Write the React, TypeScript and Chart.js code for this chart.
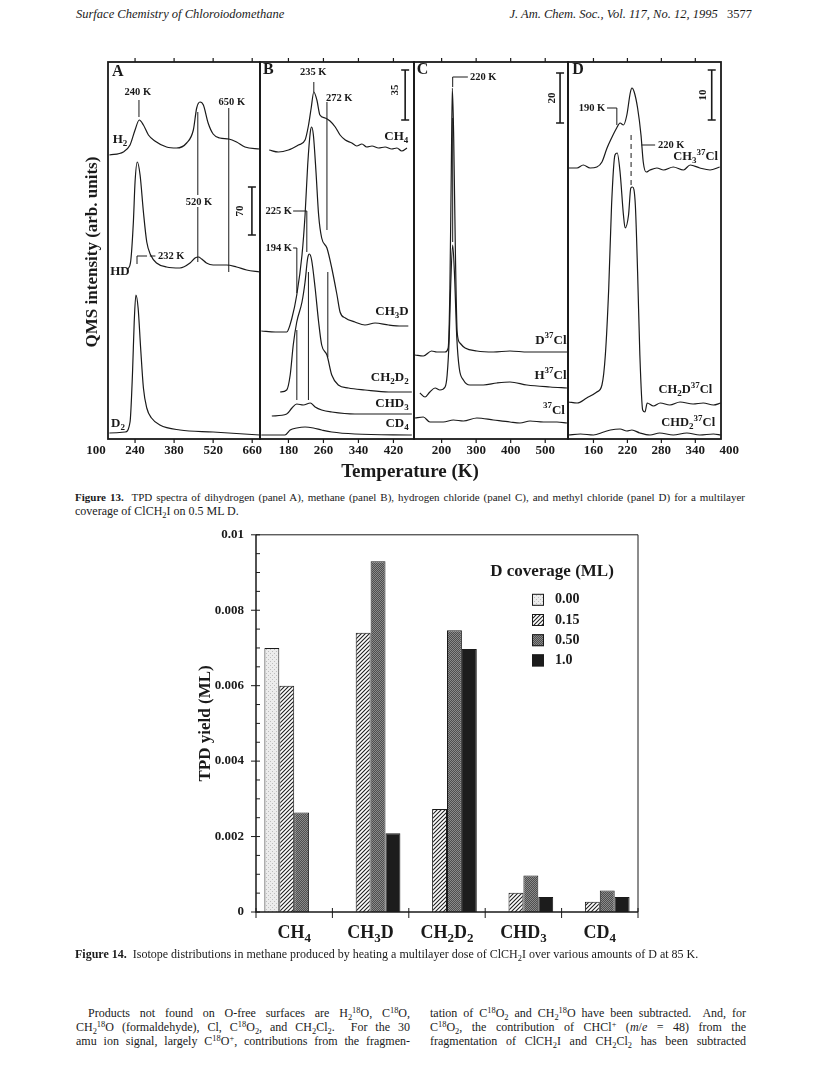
import React, { useEffect, useRef } from 'react';
import { Chart, registerables } from 'chart.js';
Chart.register(...registerables);

const SERIF = "'Liberation Serif', 'Times New Roman', Times, serif";
const INK = '#1a1a1a';

// ================= Figure 14 data =================
const barCategories = ['CH_4', 'CH_3D', 'CH_2D_2', 'CHD_3', 'CD_4'];
const coverageLabels = ['0.00', '0.15', '0.50', '1.0'];
const yield000 = [0.0070, null, null, null, null];
const yield015 = [0.0060, 0.0074, 0.00273, 0.00051, 0.00027];
const yield050 = [0.00264, 0.0093, 0.00747, 0.00097, 0.00057];
const yield100 = [null, 0.00209, 0.00697, 0.0004, 0.0004];
const yTickValues = [0, 0.002, 0.004, 0.006, 0.008, 0.01];

// ================= Figure 13 data (temperature K, signal arb.) =================
// Panel A: dihydrogen
const tempA_H2 = [148, 198, 222, 240, 255, 270, 288, 311, 353, 389, 425, 449, 461, 473, 485, 502, 520, 544, 576, 604, 634, 687];
const sigA_H2 = [290, 293, 300, 315, 325, 320, 310, 304, 298, 297, 302, 315, 337, 343, 340, 322, 311, 307, 306, 303, 298, 296];
const tempA_HD = [214, 224, 234, 240, 248, 258, 270, 282, 296, 317, 353, 401, 437, 455, 467, 479, 496, 520, 568, 604, 640, 687];
const sigA_HD = [176, 183, 223, 263, 283, 270, 233, 203, 190, 182, 178, 177, 182, 187, 188, 186, 182, 180, 180, 178, 175, 173];
const tempA_D2 = [148, 204, 222, 231, 237, 243, 251, 260, 270, 282, 299, 329, 401, 520, 687];
const sigA_D2 = [12, 13, 23, 73, 123, 150, 137, 97, 57, 37, 27, 20, 15, 13, 10];
const ticksA = [100, 240, 380, 520, 660];

// Panel B: methane
const tempB_CH4 = [136, 157, 180, 203, 218, 226, 232, 238, 245, 252, 264, 275, 287, 298, 310, 325, 336, 348, 359, 371, 386, 401, 416, 428, 439, 451];
const sigB_CH4 = [295, 293, 295, 300, 305, 320, 337, 353, 345, 330, 327, 324, 318, 310, 305, 302, 299, 301, 298, 299, 297, 298, 296, 297, 294, 297];
const tempB_CH3D = [118, 150, 176, 188, 199, 211, 218, 224, 230, 233, 237, 243, 249, 256, 268, 279, 291, 298, 310, 332, 355, 378, 409, 439, 454];
const sigB_CH3D = [114, 113, 113, 127, 150, 190, 230, 280, 313, 318, 310, 273, 230, 207, 197, 177, 150, 133, 127, 123, 120, 122, 120, 119, 119];
const tempB_CH2D2 = [161, 176, 184, 191, 199, 211, 218, 224, 228, 233, 241, 249, 256, 268, 279, 294, 317, 355, 409, 462];
const sigB_CH2D2 = [53, 55, 70, 100, 123, 143, 163, 187, 191, 185, 157, 123, 100, 90, 70, 60, 57, 55, 53, 53];
const tempB_CHD3 = [142, 176, 188, 199, 214, 230, 241, 256, 279, 332, 462];
const sigB_CHD3 = [29, 31, 37, 41, 40, 42, 38, 35, 33, 31, 31];
const tempB_CD4 = [118, 172, 184, 199, 218, 237, 256, 279, 332, 462];
const sigB_CD4 = [10, 10, 15, 17, 18, 17, 15, 13, 11, 10];
const ticksB = [180, 260, 340, 420];

// Panel C: hydrogen chloride
const tempC_D37Cl = [123, 147, 171, 186, 210, 219, 224, 228, 231, 235, 240, 245, 253, 268, 302, 350, 398, 450, 495, 563];
const sigC_D37Cl = [90, 89, 94, 93, 93, 97, 157, 273, 357, 307, 190, 113, 102, 97, 94, 93, 94, 93, 93, 93];
const tempC_H37Cl = [137, 152, 166, 181, 195, 210, 216, 222, 226, 232, 237, 244, 251, 263, 282, 321, 360, 398, 447, 514, 563];
const sigC_H37Cl = [52, 48, 53, 57, 55, 58, 70, 107, 157, 200, 173, 107, 77, 65, 60, 60, 62, 63, 60, 58, 57];
const tempC_37Cl = [123, 147, 166, 205, 234, 263, 302, 350, 398, 427, 456, 495, 534, 563];
const sigC_37Cl = [27, 28, 23, 23, 25, 24, 27, 25, 23, 22, 24, 23, 23, 22];
const ticksC = [200, 300, 400, 500];

// Panel D: methyl chloride
const tempD_CH3 = [116, 131, 142, 154, 166, 175, 184, 192, 201, 207, 213, 219, 225, 228, 232, 238, 244, 248, 253, 260, 272, 284, 301, 319, 331, 348, 366, 383];
const sigD_CH3 = [277, 277, 280, 277, 278, 283, 297, 307, 317, 322, 320, 330, 352, 357, 353, 337, 310, 283, 273, 275, 277, 275, 278, 275, 280, 277, 275, 278];
const tempD_CH2D = [116, 131, 148, 166, 175, 181, 187, 192, 198, 202, 207, 213, 216, 222, 226, 229, 234, 238, 242, 247, 251, 255, 266, 278, 295, 313, 336, 354, 372, 385];
const sigD_CH2D = [43, 42, 47, 53, 60, 90, 157, 240, 290, 292, 273, 230, 217, 230, 257, 258, 240, 173, 90, 35, 33, 42, 39, 42, 40, 43, 41, 42, 40, 42];
const tempD_CHD2 = [116, 137, 160, 178, 190, 207, 219, 228, 242, 260, 277, 301, 325, 348, 372, 385];
const sigD_CHD2 = [10, 11, 10, 13, 15, 16, 14, 15, 12, 10, 12, 10, 12, 10, 11, 10];
const ticksD = [160, 220, 280, 340, 400];

// ================= helpers =================
type Part = { t: string; k: 'n' | 'sub' | 'sup' };
function parseRich(s: string): Part[] {
  const out: Part[] = [];
  const re = /_([0-9]+)|\^([0-9+]+)|([^_^]+)/g;
  let m: RegExpExecArray | null;
  while ((m = re.exec(s))) {
    if (m[1]) out.push({ t: m[1], k: 'sub' });
    else if (m[2]) out.push({ t: m[2], k: 'sup' });
    else out.push({ t: m[3], k: 'n' });
  }
  return out;
}

function drawRich(ctx: CanvasRenderingContext2D, s: string, x: number, y: number, size: number, align: 'left' | 'center' | 'right') {
  const parts = parseRich(s);
  const fontFor = (k: string) => `bold ${k === 'n' ? size : Math.round(size * 0.7)}px ${SERIF}`;
  let w = 0;
  for (const p of parts) { ctx.font = fontFor(p.k); w += ctx.measureText(p.t).width; }
  let cx = align === 'left' ? x : align === 'center' ? x - w / 2 : x - w;
  ctx.textAlign = 'left';
  ctx.textBaseline = 'middle';
  for (const p of parts) {
    ctx.font = fontFor(p.k);
    const dy = p.k === 'sub' ? size * 0.32 : p.k === 'sup' ? -size * 0.38 : 0;
    ctx.fillText(p.t, cx, y + dy);
    cx += ctx.measureText(p.t).width;
  }
}

function Rich({ s }: { s: string }) {
  const parts = parseRich(s);
  return (
    <>
      {parts.map((p, i) =>
        p.k === 'n' ? <span key={i}>{p.t}</span> :
          <span key={i} style={{ fontSize: '0.7em', position: 'relative', top: p.k === 'sub' ? '0.3em' : '-0.45em' }}>{p.t}</span>
      )}
    </>
  );
}

// ================= Figure 13 panels =================
type TextAnn = { s: string; T: number; v: number; align: 'left' | 'center' | 'right'; size: number };
type LineAnn = { pts: number[][]; dash?: boolean };
type Panel = {
  key: string; left: number; right: number; tMin: number; tMax: number; ticks: number[];
  traces: { label: string; T: number[]; V: number[] }[];
  texts: TextAnn[]; lines: LineAnn[];
  bar: { T: number; v1: number; v2: number; label: string; labelT: number; labelV: number };
};

const FIG_TOP = 62;
const FIG_BOTTOM = 439;
const SIG_MIN = 6;
const SIG_MAX = SIG_MIN + (FIG_BOTTOM - FIG_TOP);

const panels: Panel[] = [
  {
    key: 'A', left: 108, right: 260, tMin: 143, tMax: 688, ticks: ticksA,
    traces: [
      { label: 'H2', T: tempA_H2, V: sigA_H2 },
      { label: 'HD', T: tempA_HD, V: sigA_HD },
      { label: 'D2', T: tempA_D2, V: sigA_D2 },
    ],
    texts: [
      { s: 'A', T: 157, v: 373, align: 'left', size: 16 },
      { s: '240 K', T: 250, v: 353, align: 'center', size: 10.5 },
      { s: '650 K', T: 587, v: 343, align: 'center', size: 10.5 },
      { s: '520 K', T: 469, v: 243, align: 'center', size: 10.5 },
      { s: 'H_2', T: 186, v: 305, align: 'center', size: 13 },
      { s: 'HD', T: 151, v: 173, align: 'left', size: 13 },
      { s: 'D_2', T: 179, v: 21, align: 'center', size: 13 },
      { s: '232 K', T: 322, v: 189, align: 'left', size: 10.5 },
    ],
    lines: [
      { pts: [[254, 345], [254, 328]] },
      { pts: [[576, 337], [576, 173]] },
      { pts: [[465, 333], [465, 250]] },
      { pts: [[465, 238], [465, 183]] },
      { pts: [[247, 181], [247, 189], [283, 189]] },
      { pts: [[293, 189], [313, 189]] },
    ],
    bar: { T: 659, v1: 258, v2: 210, label: '70', labelT: 616, labelV: 234 },
  },
  {
    key: 'B', left: 260, right: 414, tMin: 115, tMax: 467, ticks: ticksB,
    traces: [
      { label: 'CH4', T: tempB_CH4, V: sigB_CH4 },
      { label: 'CH3D', T: tempB_CH3D, V: sigB_CH3D },
      { label: 'CH2D2', T: tempB_CH2D2, V: sigB_CH2D2 },
      { label: 'CHD3', T: tempB_CHD3, V: sigB_CHD3 },
      { label: 'CD4', T: tempB_CD4, V: sigB_CD4 },
    ],
    texts: [
      { s: 'B', T: 122, v: 375, align: 'left', size: 16 },
      { s: '235 K', T: 236.5, v: 373, align: 'center', size: 10.5 },
      { s: '272 K', T: 296, v: 347, align: 'center', size: 10.5 },
      { s: 'CH_4', T: 454, v: 308, align: 'right', size: 13 },
      { s: '225 K', T: 188, v: 234, align: 'right', size: 10.5 },
      { s: '194 K', T: 188, v: 197, align: 'right', size: 10.5 },
      { s: 'CH_3D', T: 455, v: 133, align: 'right', size: 13 },
      { s: 'CH_2D_2', T: 455, v: 67, align: 'right', size: 13 },
      { s: 'CHD_3', T: 455, v: 41, align: 'right', size: 13 },
      { s: 'CD_4', T: 455, v: 21, align: 'right', size: 13 },
    ],
    lines: [
      { pts: [[238, 363], [238, 353]] },
      { pts: [[268, 343], [268, 215]] },
      { pts: [[270, 173], [270, 88]] },
      { pts: [[190.7, 234], [222, 234], [222, 193]] },
      { pts: [[225.7, 173], [225.7, 45]] },
      { pts: [[190.7, 197], [199.2, 197], [199.2, 152]] },
      { pts: [[199.2, 115], [199.2, 45]] },
    ],
    bar: { T: 446.8, v1: 375, v2: 325, label: '35', labelT: 424, labelV: 355 },
  },
  {
    key: 'C', left: 414, right: 568, tMin: 120, tMax: 566, ticks: ticksC,
    traces: [
      { label: 'D37Cl', T: tempC_D37Cl, V: sigC_D37Cl },
      { label: 'H37Cl', T: tempC_H37Cl, V: sigC_H37Cl },
      { label: '37Cl', T: tempC_37Cl, V: sigC_37Cl },
    ],
    texts: [
      { s: 'C', T: 128, v: 375, align: 'left', size: 16 },
      { s: '220 K', T: 282, v: 368, align: 'left', size: 10.5 },
      { s: 'D^37Cl', T: 562, v: 104, align: 'right', size: 13 },
      { s: 'H^37Cl', T: 562, v: 69, align: 'right', size: 13 },
      { s: '^37Cl', T: 557, v: 34, align: 'right', size: 13 },
    ],
    lines: [
      { pts: [[232, 358], [232, 368], [276, 368]] },
      { pts: [[232, 327], [232, 203]] },
    ],
    bar: { T: 543, v1: 372, v2: 322, label: '20', labelT: 520, labelV: 347 },
  },
  {
    key: 'D', left: 568, right: 721, tMin: 115, tMax: 385.4, ticks: ticksD,
    traces: [
      { label: 'CH3 37Cl', T: tempD_CH3, V: sigD_CH3 },
      { label: 'CH2D 37Cl', T: tempD_CH2D, V: sigD_CH2D },
      { label: 'CHD2 37Cl', T: tempD_CHD2, V: sigD_CHD2 },
    ],
    texts: [
      { s: 'D', T: 122.4, v: 375, align: 'left', size: 16 },
      { s: '190 K', T: 180.7, v: 337, align: 'right', size: 10.5 },
      { s: '220 K', T: 274, v: 300, align: 'left', size: 10.5 },
      { s: 'CH_3^37Cl', T: 380, v: 288, align: 'right', size: 12.5 },
      { s: 'CH_2D^37Cl', T: 370, v: 55, align: 'right', size: 12.5 },
      { s: 'CHD_2^37Cl', T: 375, v: 22, align: 'right', size: 12.5 },
    ],
    lines: [
      { pts: [[184, 337], [201.3, 337], [201.3, 320]] },
      { pts: [[245, 300], [269, 300]] },
      { pts: [[226.5, 310], [226.5, 257]], dash: true },
    ],
    bar: { T: 369, v1: 375, v2: 325, label: '10', labelT: 353.6, labelV: 350 },
  },
];

const PANEL_MARGIN = 32;
const PANEL_CANVAS_TOP = 55;
const PANEL_CANVAS_H = 420;

function makePanelPlugin(p: Panel) {
  return {
    id: 'panelDecor' + p.key,
    afterDatasetsDraw(chart: any) {
      const { ctx, chartArea: a } = chart;
      const xs = chart.scales.x;
      const ys = chart.scales.y;
      const X = (t: number) => xs.getPixelForValue(t);
      const Y = (v: number) => ys.getPixelForValue(v);
      ctx.save();
      ctx.strokeStyle = INK;
      ctx.fillStyle = INK;
      ctx.lineWidth = 1;
      for (const ln of p.lines) {
        ctx.setLineDash(ln.dash ? [5, 4] : []);
        ctx.beginPath();
        ln.pts.forEach(([t, v], i) => (i ? ctx.lineTo(X(t), Y(v)) : ctx.moveTo(X(t), Y(v))));
        ctx.stroke();
      }
      ctx.setLineDash([]);
      // scale bar
      const b = p.bar;
      const bx = X(b.T);
      ctx.lineWidth = 1.6;
      ctx.beginPath();
      ctx.moveTo(bx, Y(b.v1)); ctx.lineTo(bx, Y(b.v2));
      ctx.moveTo(bx - 4, Y(b.v1)); ctx.lineTo(bx + 4, Y(b.v1));
      ctx.moveTo(bx - 4, Y(b.v2)); ctx.lineTo(bx + 4, Y(b.v2));
      ctx.stroke();
      ctx.save();
      ctx.translate(X(b.labelT), Y(b.labelV));
      ctx.rotate(-Math.PI / 2);
      ctx.font = `bold 11px ${SERIF}`;
      ctx.textAlign = 'center';
      ctx.textBaseline = 'middle';
      ctx.fillText(b.label, 0, 0);
      ctx.restore();
      for (const t of p.texts) drawRich(ctx, t.s, X(t.T), Y(t.v), t.size, t.align);
      // frame
      ctx.lineWidth = 1.8;
      ctx.strokeRect(a.left, a.top, a.right - a.left, a.bottom - a.top);
      // ticks
      ctx.lineWidth = 1.2;
      ctx.font = `bold 13px ${SERIF}`;
      ctx.textAlign = 'center';
      ctx.textBaseline = 'middle';
      for (const tk of p.ticks) {
        const px = X(tk);
        if (px > a.left + 2 && px < a.right - 2) {
          ctx.beginPath();
          ctx.moveTo(px, a.top - 4); ctx.lineTo(px, a.top);
          ctx.moveTo(px, a.bottom); ctx.lineTo(px, a.bottom + 4);
          ctx.stroke();
        }
        ctx.fillText(String(tk), px, a.bottom + 12);
      }
      ctx.restore();
    },
  };
}

function Fig13Panel({ p }: { p: Panel }) {
  const ref = useRef<HTMLCanvasElement | null>(null);
  const W = p.right - p.left + PANEL_MARGIN * 2;
  useEffect(() => {
    if (!ref.current) return;
    const chart = new Chart(ref.current, {
      type: 'line',
      data: {
        datasets: p.traces.map((tr) => ({
          label: tr.label,
          data: tr.T.map((t, i) => ({ x: t, y: tr.V[i] })),
          borderColor: INK,
          borderWidth: 1.2,
          pointRadius: 0,
          fill: false,
          cubicInterpolationMode: 'monotone' as const,
        })),
      },
      options: {
        responsive: false,
        animation: false,
        layout: {
          padding: {
            left: PANEL_MARGIN,
            right: PANEL_MARGIN,
            top: FIG_TOP - PANEL_CANVAS_TOP,
            bottom: PANEL_CANVAS_TOP + PANEL_CANVAS_H - FIG_BOTTOM,
          },
        },
        scales: {
          x: { type: 'linear', min: p.tMin, max: p.tMax, display: false },
          y: { min: SIG_MIN, max: SIG_MAX, display: false },
        },
        plugins: { legend: { display: false }, tooltip: { enabled: false } },
      },
      plugins: [makePanelPlugin(p)],
    });
    return () => chart.destroy();
  }, []);
  return (
    <canvas
      ref={ref}
      width={W}
      height={PANEL_CANVAS_H}
      style={{ position: 'absolute', left: p.left - PANEL_MARGIN, top: PANEL_CANVAS_TOP, width: W, height: PANEL_CANVAS_H }}
    />
  );
}

// ================= Figure 14 bar chart =================
function makePatterns(): (CanvasPattern | string)[] {
  const mk = (size: number, draw: (c: CanvasRenderingContext2D) => void) => {
    const cv = document.createElement('canvas');
    cv.width = size; cv.height = size;
    const c = cv.getContext('2d')!;
    draw(c);
    return c.createPattern(cv, 'repeat')!;
  };
  const light = mk(4, (c) => {
    c.fillStyle = '#ececec'; c.fillRect(0, 0, 4, 4);
    c.fillStyle = '#bdbdbd'; c.fillRect(0, 0, 1, 1); c.fillRect(2, 2, 1, 1);
  });
  const hatch = mk(4, (c) => {
    c.fillStyle = '#ffffff'; c.fillRect(0, 0, 4, 4);
    c.strokeStyle = '#202020'; c.lineWidth = 1.1;
    c.beginPath();
    c.moveTo(0, 4); c.lineTo(4, 0);
    c.moveTo(-2, 2); c.lineTo(2, -2);
    c.moveTo(2, 6); c.lineTo(6, 2);
    c.stroke();
  });
  const dark = mk(2, (c) => {
    c.fillStyle = '#8a8a8a'; c.fillRect(0, 0, 2, 2);
    c.fillStyle = '#4e4e4e'; c.fillRect(0, 0, 1, 1); c.fillRect(1, 1, 1, 1);
  });
  return [light, hatch, dark, '#1c1c1c'];
}

const BAR_CANVAS = { left: 180, top: 515, width: 480, height: 450 };

function BarChart() {
  const ref = useRef<HTMLCanvasElement | null>(null);
  useEffect(() => {
    if (!ref.current) return;
    const fills = makePatterns();
    const series = [yield000, yield015, yield050, yield100];
    const decor = {
      id: 'barDecor',
      afterDatasetsDraw(chart: any) {
        const { ctx, chartArea: a } = chart;
        const xs = chart.scales.x;
        const ys = chart.scales.y;
        ctx.save();
        ctx.strokeStyle = INK;
        ctx.fillStyle = INK;
        ctx.lineWidth = 1;
        ctx.beginPath();
        ctx.moveTo(a.left, a.top); ctx.lineTo(a.right, a.top); ctx.lineTo(a.right, a.bottom);
        ctx.stroke();
        ctx.lineWidth = 1.5;
        ctx.beginPath();
        ctx.moveTo(a.left, a.top); ctx.lineTo(a.left, a.bottom); ctx.lineTo(a.right, a.bottom);
        ctx.stroke();
        // y ticks: majors every 0.002, minors every 0.0005
        ctx.lineWidth = 1;
        for (let k = 0; k <= 20; k++) {
          const py = ys.getPixelForValue(k * 0.0005);
          ctx.beginPath();
          if (k % 4 === 0) { ctx.moveTo(a.left - 5, py); ctx.lineTo(a.left + 4, py); }
          else { ctx.moveTo(a.left, py); ctx.lineTo(a.left + 4, py); }
          ctx.stroke();
        }
        // category boundary ticks
        const half = (xs.getPixelForValue(1) - xs.getPixelForValue(0)) / 2;
        for (let i = 0; i <= barCategories.length; i++) {
          const px = i < barCategories.length ? xs.getPixelForValue(i) - half : xs.getPixelForValue(i - 1) + half;
          ctx.beginPath();
          ctx.moveTo(px, a.bottom - 4); ctx.lineTo(px, a.bottom + 6);
          ctx.stroke();
        }
        // category labels
        barCategories.forEach((c, i) => drawRich(ctx, c, xs.getPixelForValue(i), a.bottom + 21, 18, 'center'));
        ctx.restore();
      },
      afterDraw(chart: any) {
        const { ctx, chartArea: a } = chart;
        ctx.save();
        ctx.fillStyle = INK;
        ctx.font = `bold 17px ${SERIF}`;
        ctx.textAlign = 'center';
        ctx.textBaseline = 'middle';
        ctx.fillText('D coverage (ML)', a.left + 296, a.top + 37);
        coverageLabels.forEach((lab, i) => {
          const cy = a.top + 65 + i * 20.2;
          ctx.fillStyle = fills[i] as any;
          ctx.fillRect(a.left + 276, cy - 6, 12, 12);
          ctx.strokeStyle = INK;
          ctx.lineWidth = 1;
          ctx.strokeRect(a.left + 276.5, cy - 5.5, 11, 11);
          ctx.fillStyle = INK;
          ctx.font = `bold 14px ${SERIF}`;
          ctx.textAlign = 'left';
          ctx.fillText(lab, a.left + 299, cy);
        });
        ctx.restore();
      },
    };
    const chart = new Chart(ref.current, {
      type: 'bar',
      data: {
        labels: barCategories,
        datasets: coverageLabels.map((lab, i) => ({
          label: lab,
          data: series[i],
          backgroundColor: fills[i] as any,
          borderColor: INK,
          borderWidth: 1,
          categoryPercentage: 0.78,
          barPercentage: 1.0,
        })),
      },
      options: {
        responsive: false,
        animation: false,
        layout: { padding: { top: 18, right: 22, left: 0, bottom: 0 } },
        scales: {
          x: {
            type: 'category',
            offset: true,
            grid: { display: false },
            border: { display: false },
            ticks: { display: false },
            afterFit: (s: any) => { s.height = 53; },
          },
          y: {
            min: 0,
            max: 0.01,
            grid: { display: false, drawTicks: false },
            border: { display: false },
            afterBuildTicks: (s: any) => { s.ticks = yTickValues.map((v) => ({ value: v })); },
            afterFit: (s: any) => { s.width = 76; },
            ticks: {
              padding: 12,
              color: INK,
              font: { family: SERIF, size: 13, weight: 'bold' },
              callback: (v: any) => (Number(v) === 0 ? '0' : String(Number(Number(v).toFixed(3)))),
            },
            title: {
              display: true,
              text: 'TPD yield (ML)',
              color: INK,
              font: { family: SERIF, size: 17, weight: 'bold' },
              padding: { top: 15, bottom: 0 },
            },
          },
        },
        plugins: { legend: { display: false }, tooltip: { enabled: false } },
      },
      plugins: [decor],
    });
    return () => chart.destroy();
  }, []);
  return (
    <canvas
      ref={ref}
      width={BAR_CANVAS.width}
      height={BAR_CANVAS.height}
      style={{ position: 'absolute', left: BAR_CANVAS.left, top: BAR_CANVAS.top, width: BAR_CANVAS.width, height: BAR_CANVAS.height }}
    />
  );
}

// ================= page text =================
function Line({ left, top, width, size, justify, children, indent }: any) {
  return (
    <div
      style={{
        position: 'absolute', left, top, width, fontSize: size, lineHeight: `${Math.round(size + 2)}px`,
        textAlign: justify ? 'justify' : 'left', textAlignLast: justify ? 'justify' : 'left',
        textIndent: indent || 0,
      } as any}
    >
      {children}
    </div>
  );
}

export default function App() {
  return (
    <div style={{ position: 'absolute', left: 0, top: 0, width: 820, height: 1068, background: '#fff', fontFamily: SERIF, color: INK, overflow: 'hidden' }}>
      {/* running header */}
      <div style={{ position: 'absolute', left: 76, top: 7, fontSize: 12.5, fontStyle: 'italic' }}>Surface Chemistry of Chloroiodomethane</div>
      <div style={{ position: 'absolute', left: 420, top: 7, width: 332, textAlign: 'right', fontSize: 12.5 }}>
        <i>J. Am. Chem. Soc., Vol. 117, No. 12, 1995</i>&nbsp;&nbsp;&nbsp;3577
      </div>

      {/* Figure 13 */}
      {panels.map((p) => <Fig13Panel key={p.key} p={p} />)}
      <div style={{ position: 'absolute', left: 92 - 140, top: 252 - 11, width: 280, height: 22, lineHeight: '22px', textAlign: 'center', fontSize: 17, fontWeight: 'bold', transform: 'rotate(-90deg)' }}>
        QMS intensity (arb. units)
      </div>
      <div style={{ position: 'absolute', left: 290, top: 460, width: 240, textAlign: 'center', fontSize: 19, fontWeight: 'bold', lineHeight: '22px' }}>Temperature (K)</div>
      <Line left={75} top={491} width={670} size={11} justify>
        <b>Figure 13.</b>&nbsp; TPD spectra of dihydrogen (panel A), methane (panel B), hydrogen chloride (panel C), and methyl chloride (panel D) for a multilayer
      </Line>
      <Line left={75} top={504} width={670} size={12}>
        coverage of <Rich s="ClCH_2I" /> on 0.5 ML D.
      </Line>

      {/* Figure 14 */}
      <BarChart />
      <Line left={75} top={947} width={720} size={12}>
        <b>Figure 14.</b>&nbsp; Isotope distributions in methane produced by heating a multilayer dose of <Rich s="ClCH_2I" /> over various amounts of D at 85 K.
      </Line>

      {/* body text */}
      <Line left={76} top={1006} width={334} size={12} justify indent={12}>
        Products not found on O-free surfaces are <Rich s="H_2^18O" />, <Rich s="C^18O" />,
      </Line>
      <Line left={76} top={1020} width={334} size={12} justify>
        <Rich s="CH_2^18O" /> (formaldehyde), Cl, <Rich s="C^18O_2" />, and <Rich s="CH_2Cl_2" />.&nbsp; For the 30
      </Line>
      <Line left={76} top={1034} width={334} size={12} justify>
        amu ion signal, largely <Rich s="C^18O^+" />, contributions from the fragmen-
      </Line>
      <Line left={430} top={1006} width={316} size={12} justify>
        tation of <Rich s="C^18O_2" /> and <Rich s="CH_2^18O" /> have been subtracted.&nbsp; And, for
      </Line>
      <Line left={430} top={1020} width={316} size={12} justify>
        <Rich s="C^18O_2" />, the contribution of <Rich s="CHCl^+" /> (<i>m</i>/<i>e</i> = 48) from the
      </Line>
      <Line left={430} top={1034} width={316} size={12} justify>
        fragmentation of <Rich s="ClCH_2I" /> and <Rich s="CH_2Cl_2" /> has been subtracted
      </Line>
    </div>
  );
}
